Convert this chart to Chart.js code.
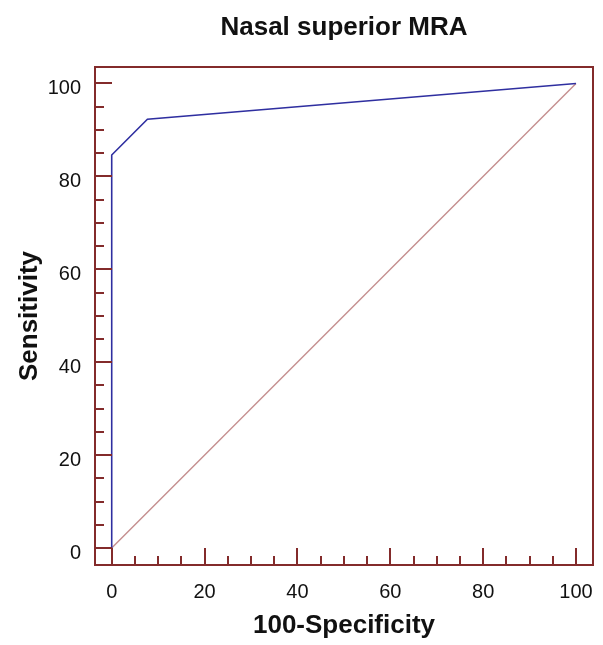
<!DOCTYPE html>
<html>
<head>
<meta charset="utf-8">
<script src="https://cdn.jsdelivr.net/npm/chart.js@4.4.1/dist/chart.umd.min.js"></script>
<style>
html,body{margin:0;padding:0;background:#fff;}
canvas{display:block;}
</style>
</head>
<body>
<canvas id="c" width="603" height="645"></canvas>
<script>
// Data
const rocX = [0, 0, 7.69, 100];
const rocY = [0, 84.6, 92.3, 100];
const diagX = [0, 100];
const diagY = [0, 100];
const tickValues = [0, 5, 10, 15, 20, 25, 30, 35, 40, 45, 50, 55, 60, 65, 70, 75, 80, 85, 90, 95, 100];
const majorLabels = [0, 20, 40, 60, 80, 100];

const FONT = "'Liberation Sans', Arial, Helvetica, sans-serif";
const BOX = '#832b2b';

const boxPlugin = {
  id: 'boxTicks',
  afterDraw(chart) {
    const {ctx, chartArea: a, scales} = chart;
    ctx.save();
    ctx.strokeStyle = BOX;
    ctx.lineWidth = 2;
    ctx.beginPath();
    tickValues.forEach(v => {
      const major = majorLabels.includes(v);
      const len = major ? 17 : 9;
      const x = Math.round(scales.x.getPixelForValue(v));
      ctx.moveTo(x, a.bottom);
      ctx.lineTo(x, a.bottom - len);
      const y = Math.round(scales.y.getPixelForValue(v));
      ctx.moveTo(a.left, y);
      ctx.lineTo(a.left + len, y);
    });
    ctx.stroke();
    ctx.lineWidth = 2;
    ctx.strokeRect(a.left, a.top, a.right - a.left, a.bottom - a.top);
    ctx.restore();
  }
};

const ticksCb = v => majorLabels.includes(v) ? String(v) : '';
const titleFont = {family: FONT, size: 26, weight: 'bold', lineHeight: 1.2};

new Chart(document.getElementById('c'), {
  type: 'scatter',
  data: {
    datasets: [
      {
        data: rocX.map((x, i) => ({x, y: rocY[i]})),
        showLine: true,
        borderColor: '#2f2fa0',
        borderWidth: 1.6,
        pointRadius: 0,
        tension: 0,
        order: 0
      },
      {
        data: diagX.map((x, i) => ({x, y: diagY[i]})),
        showLine: true,
        borderColor: '#c48e8e',
        borderWidth: 1.4,
        pointRadius: 0,
        tension: 0,
        order: 1
      }
    ]
  },
  options: {
    responsive: false,
    animation: false,
    devicePixelRatio: 1,
    layout: {padding: {left: 0, right: 10, top: 0, bottom: 0}},
    plugins: {
      legend: {display: false},
      tooltip: {enabled: false},
      title: {
        display: true,
        text: 'Nasal superior MRA',
        fullSize: false,
        color: '#111',
        font: titleFont,
        padding: {top: 12.4, bottom: 23.4}
      }
    },
    scales: {
      x: {
        type: 'linear',
        min: -3.6,
        max: 103.66,
        grid: {display: false, drawTicks: false},
        border: {display: false},
        afterBuildTicks: s => { s.ticks = tickValues.map(v => ({value: v})); },
        afterFit: s => { s.height = 80; s.paddingLeft = 0; s.paddingRight = 0; },
        ticks: {
          autoSkip: false, maxRotation: 0, minRotation: 0,
          padding: 15, color: '#111',
          font: {family: FONT, size: 20},
          callback: ticksCb
        },
        title: {
          display: true,
          text: '100-Specificity',
          color: '#111',
          font: titleFont,
          padding: {top: 0, bottom: 4}
        }
      },
      y: {
        type: 'linear',
        min: -3.66,
        max: 103.55,
        grid: {display: false, drawTicks: false},
        border: {display: false},
        afterBuildTicks: s => { s.ticks = tickValues.map(v => ({value: v})); },
        afterFit: s => { s.width = 95; s.paddingTop = 0; s.paddingBottom = 0; },
        ticks: {
          autoSkip: false,
          padding: 14, labelOffset: 5, color: '#111',
          font: {family: FONT, size: 20},
          callback: ticksCb
        },
        title: {
          display: true,
          text: 'Sensitivity',
          color: '#111',
          font: titleFont,
          padding: {top: 14, bottom: 0}
        }
      }
    }
  },
  plugins: [boxPlugin]
});
</script>
</body>
</html>
